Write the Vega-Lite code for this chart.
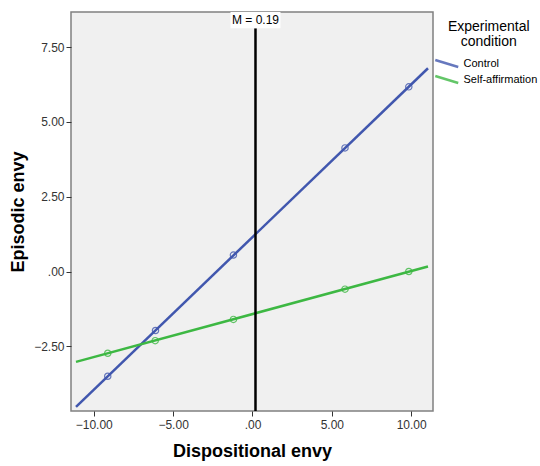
{
  "$schema": "https://vega.github.io/schema/vega-lite/v6.json",
  "width": 362,
  "height": 399,
  "autosize": {"type": "none"},
  "padding": {"left": 71, "top": 12, "right": 107, "bottom": 55},
  "background": "white",
  "config": {
    "view": {"fill": "#F0F0F0", "stroke": "#808080", "strokeWidth": 1.5},
    "font": "Liberation Sans",
    "axis": {
      "grid": false,
      "domain": false,
      "ticks": true,
      "tickColor": "#333333",
      "tickSize": 5,
      "tickWidth": 1,
      "labelColor": "#333333",
      "labelFont": "Liberation Sans",
      "labelFontSize": 12,
      "titleFont": "Liberation Sans",
      "titleFontSize": 18,
      "titleFontWeight": "bold",
      "titleColor": "#000000"
    }
  },
  "datasets": {
    "pts": [
      {"dispositional": -9.12, "episodic": -3.5, "condition": "Control"},
      {"dispositional": -6.11, "episodic": -1.97, "condition": "Control"},
      {"dispositional": -1.2, "episodic": 0.55, "condition": "Control"},
      {"dispositional": 5.83, "episodic": 4.13, "condition": "Control"},
      {"dispositional": 9.85, "episodic": 6.17, "condition": "Control"},
      {"dispositional": -9.12, "episodic": -2.73, "condition": "Self-affirmation"},
      {"dispositional": -6.13, "episodic": -2.31, "condition": "Self-affirmation"},
      {"dispositional": -1.2, "episodic": -1.6, "condition": "Self-affirmation"},
      {"dispositional": 5.83, "episodic": -0.59, "condition": "Self-affirmation"},
      {"dispositional": 9.85, "episodic": 0.0, "condition": "Self-affirmation"}
    ],
    "fit": [
      {"dispositional": -11.12, "episodic": -4.52, "condition": "Control"},
      {"dispositional": 11.06, "episodic": 6.79, "condition": "Control"},
      {"dispositional": -11.12, "episodic": -3.02, "condition": "Self-affirmation"},
      {"dispositional": 11.06, "episodic": 0.17, "condition": "Self-affirmation"}
    ],
    "mean": [
      {"m": 0.19, "label": "M = 0.19", "top": 8.67, "boxBottom": 8.13, "ruleTop": 8.13, "bottom": -4.66}
    ]
  },
  "layer": [
    {
      "data": {"name": "fit"},
      "mark": {"type": "line", "strokeWidth": 2.5, "clip": true},
      "encoding": {
        "x": {
          "field": "dispositional",
          "type": "quantitative",
          "title": "Dispositional envy",
          "scale": {"domain": [-11.12, 11.06], "nice": false, "zero": false},
          "axis": {"values": [-10, -5, 0, 5, 10], "format": ".2f", "labelExpr": "datum.value == 0 ? '.00' : datum.label", "titlePadding": 12, "labelPadding": 3}
        },
        "y": {
          "field": "episodic",
          "type": "quantitative",
          "title": "Episodic envy",
          "scale": {"domain": [-4.66, 8.67], "nice": false, "zero": false},
          "axis": {"values": [-2.5, 0, 2.5, 5, 7.5], "format": ".2f", "labelExpr": "datum.value == 0 ? '.00' : datum.label", "titlePadding": 6, "labelPadding": 2}
        },
        "color": {
          "field": "condition",
          "type": "nominal",
          "scale": {"domain": ["Control", "Self-affirmation"], "range": ["#4157AE", "#3DB843"]},
          "legend": {
            "orient": "none",
            "legendX": 368.75,
            "legendY": 8,
            "padding": 0,
            "title": ["Experimental", "condition"],
            "titleFont": "Liberation Sans",
            "titleFontSize": 14,
            "titleFontWeight": "normal",
            "titleColor": "#000000",
            "titleAnchor": "middle",
            "titleAlign": "center",
            "titleLineHeight": 15,
            "titlePadding": 7.5,
            "labelFont": "Liberation Sans",
            "labelFontSize": 11,
            "labelColor": "#000000",
            "labelOffset": 9.75,
            "symbolType": "M-2,-0.6L2,0.6",
            "symbolSize": 132,
            "symbolStrokeWidth": 2.5,
            "rowPadding": -2.5
          }
        }
      }
    },
    {
      "data": {"name": "pts"},
      "mark": {"type": "point", "shape": "circle", "filled": false, "size": 40, "strokeWidth": 1.2, "opacity": 0.8},
      "encoding": {
        "x": {"field": "dispositional", "type": "quantitative"},
        "y": {"field": "episodic", "type": "quantitative"},
        "color": {"field": "condition", "type": "nominal"}
      }
    },
    {
      "data": {"name": "mean"},
      "mark": {"type": "rule", "color": "#000000", "strokeWidth": 2.5},
      "encoding": {
        "x": {"field": "m", "type": "quantitative"},
        "y": {"field": "ruleTop", "type": "quantitative"},
        "y2": {"field": "bottom"}
      }
    },
    {
      "data": {"name": "mean"},
      "mark": {"type": "bar", "color": "#FFFFFF", "width": 50},
      "encoding": {
        "x": {"field": "m", "type": "quantitative"},
        "y": {"field": "top", "type": "quantitative"},
        "y2": {"field": "boxBottom"}
      }
    },
    {
      "data": {"name": "mean"},
      "mark": {"type": "text", "fontSize": 12, "font": "Liberation Sans", "color": "#000000", "baseline": "middle", "dy": 8},
      "encoding": {
        "x": {"field": "m", "type": "quantitative"},
        "y": {"field": "top", "type": "quantitative"},
        "text": {"field": "label"}
      }
    }
  ]
}
